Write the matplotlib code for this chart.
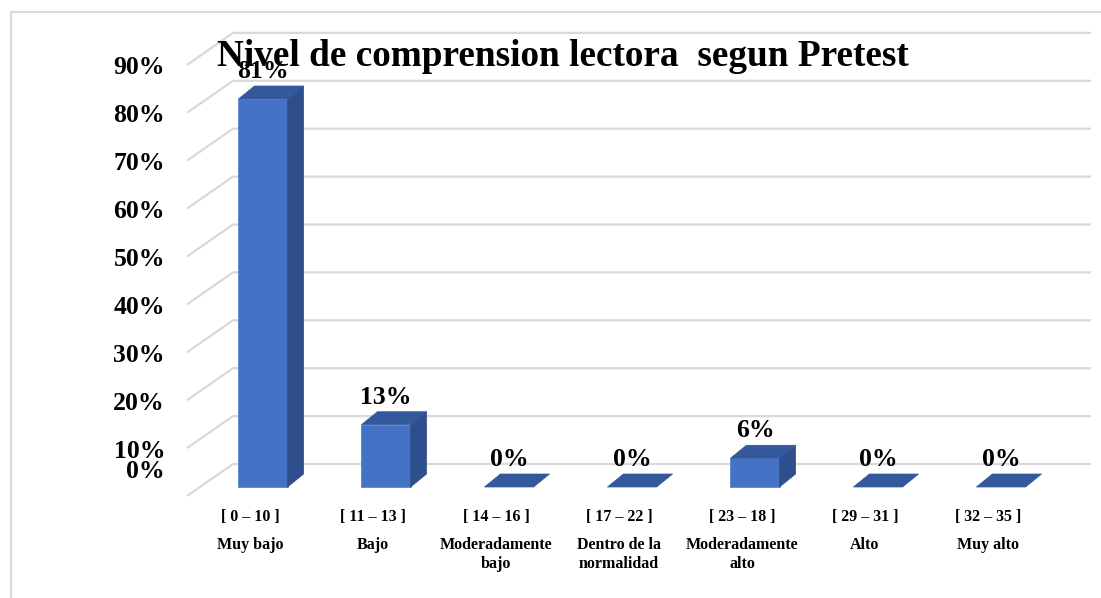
import numpy as np
import matplotlib
matplotlib.use("Agg")
import matplotlib.pyplot as plt
from matplotlib.patches import Polygon, Rectangle
from matplotlib.lines import Line2D

# data
ranges = ["[ 0 – 10 ]", "[ 11 – 13 ]", "[ 14 – 16 ]", "[ 17 – 22 ]",
          "[ 23 – 18 ]", "[ 29 – 31 ]", "[ 32 – 35 ]"]
levels = ["Muy bajo", "Bajo", "Moderadamente\nbajo", "Dentro de la\nnormalidad",
          "Moderadamente\nalto", "Alto", "Muy alto"]
values = [81, 13, 0, 0, 6, 0, 0]
yticks = [0, 10, 20, 30, 40, 50, 60, 70, 80, 90]
title = "Nivel de comprension lectora  segun Pretest"

W, H = 1101, 598
SERIF = ["Liberation Serif", "DejaVu Serif"]

# pixel scale of the front plane
px_x = 123.0    # pixels per category
px_y = 4.79     # pixels per percent
x0_px = 263.0   # first bar centre
y0_px = 487.0   # bar base


def dx(p):
    return p / px_x


def dy(p):
    return p / px_y


fig = plt.figure(figsize=(W / 100, H / 100), dpi=100)
ax = fig.add_axes([0, 0, 1, 1])
ax.set_xlim(-x0_px / px_x, (W - x0_px) / px_x)
ax.set_ylim(-(H - y0_px) / px_y, y0_px / px_y)
ax.axis("off")

# chart border
fig.add_artist(Line2D([11 / W, 1.0], [1 - 12 / H, 1 - 12 / H], color="#D9D9D9", lw=1.5))
fig.add_artist(Line2D([11 / W, 11 / W], [0, 1 - 12 / H], color="#D9D9D9", lw=1.5))

# gridlines: back wall + diagonal side
wall_dy = dy(23)
wall_x = dx(-30)
front_x = dx(-76)
front_dy = dy(-9)
right_x = dx(1091 - x0_px)
for v in yticks:
    ax.plot([front_x, wall_x, right_x], [v + front_dy, v + wall_dy, v + wall_dy],
            color="#D9D9D9", lw=1.6, zorder=1, solid_capstyle="butt")
    ty = max(v + front_dy - dy(3), dy(15))
    ax.text(dx(165 - x0_px), ty, f"{v}%", ha="right", va="center",
            fontsize=18.5, fontweight="bold", family=SERIF)

# 3D-looking bars
bw = 0.4
ddx, ddy = dx(16), dy(13)
front_c = "#4472C4"
side_c = "#2E4F8C"
top_c = "#34589C"
for i, v in enumerate(values):
    l, r = i - bw / 2, i + bw / 2
    if v > 0:
        ax.add_patch(Rectangle((l, 0), bw, v, facecolor=front_c, edgecolor="#5A86D0",
                               lw=0.6, zorder=3))
        ax.add_patch(Polygon([(r, 0), (r + ddx, ddy), (r + ddx, v + ddy), (r, v)],
                             closed=True, facecolor=side_c, edgecolor=side_c, lw=0.5, zorder=3))
    ax.add_patch(Polygon([(l, v), (r, v), (r + ddx, v + ddy), (l + ddx, v + ddy)],
                         closed=True, facecolor=top_c, edgecolor=top_c, lw=0.5, zorder=3))
    ax.text(i, v + ddy + dy(3), f"{v}%", ha="center", va="bottom",
            fontsize=18.5, fontweight="bold", family=SERIF, zorder=4)

# category labels
for i, (rg, lv) in enumerate(zip(ranges, levels)):
    ax.text(i - dx(13), -dy(517 - y0_px), rg, ha="center", va="center",
            fontsize=11.5, fontweight="bold", family=SERIF)
    ax.text(i - dx(13), -dy(537 - y0_px), lv, ha="center", va="top",
            fontsize=11.5, fontweight="bold", family=SERIF, linespacing=1.25)

fig.text(563 / W, 1 - 57 / H, title, ha="center", va="center",
         fontsize=26.8, fontweight="bold", family=SERIF, zorder=5)

fig.savefig("out.png", dpi=100, facecolor="white")
